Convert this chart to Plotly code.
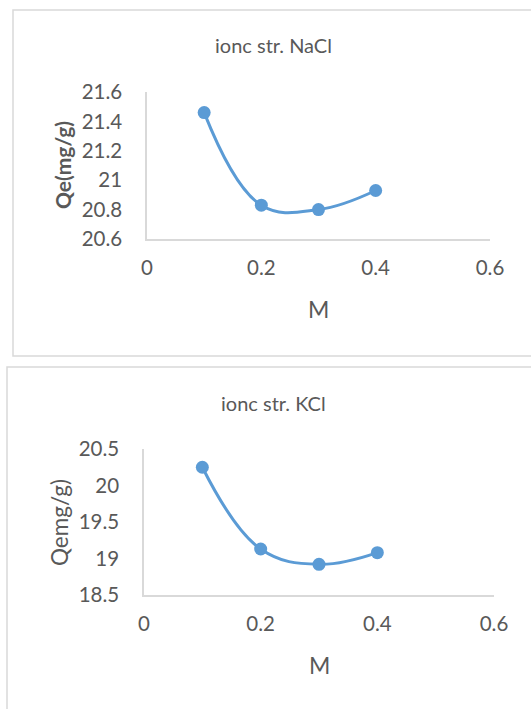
import plotly.graph_objects as go

# Ionic strength experiments: adsorption capacity vs. salt concentration
conc_nacl = [0.1, 0.2, 0.3, 0.4]
qe_nacl = [21.46, 20.83, 20.80, 20.93]

conc_kcl = [0.1, 0.2, 0.3, 0.4]
qe_kcl = [20.25, 19.13, 18.92, 19.08]

x_ticks = [0, 0.2, 0.4, 0.6]
nacl_y_ticks = [20.6, 20.8, 21.0, 21.2, 21.4, 21.6]
kcl_y_ticks = [18.5, 19.0, 19.5, 20.0, 20.5]

W, H = 531, 709
BLUE = "#5B9BD5"
TEXT = "#595959"
AXIS = "#D9D9D9"
FONT = "Lato"


def px_x(v):
    return v / W


def px_y(v):
    return 1 - v / H


fig = go.Figure()

fig.add_trace(go.Scatter(
    x=conc_nacl, y=qe_nacl, mode="lines+markers",
    line=dict(color=BLUE, width=3, shape="spline", smoothing=1.15),
    marker=dict(color=BLUE, size=13),
    xaxis="x", yaxis="y", showlegend=False,
))
fig.add_trace(go.Scatter(
    x=conc_kcl, y=qe_kcl, mode="lines+markers",
    line=dict(color=BLUE, width=3, shape="spline", smoothing=1.15),
    marker=dict(color=BLUE, size=13),
    xaxis="x2", yaxis="y2", showlegend=False,
))

tick_font = dict(family=FONT, size=20.5, color=TEXT)

common_x = dict(
    range=[0, 0.6], tickvals=x_ticks, ticktext=["0", "0.2", "0.4", "0.6"],
    showgrid=False, zeroline=False, showline=True, linecolor=AXIS, linewidth=1.5,
    ticks="", tickfont=tick_font, ticklabelstandoff=10, automargin=False,
)
common_y = dict(
    showgrid=False, zeroline=False, showline=True, linecolor=AXIS, linewidth=1.5,
    ticks="", tickfont=tick_font, ticklabelstandoff=19, automargin=False,
)

fig.update_layout(
    width=W, height=H,
    margin=dict(l=0, r=0, t=0, b=0, autoexpand=False),
    paper_bgcolor="white", plot_bgcolor="white",
    xaxis=dict(domain=[px_x(147), px_x(490)], anchor="y", **common_x),
    yaxis=dict(domain=[px_y(239), px_y(92)], anchor="x", range=[20.6, 21.6],
               tickvals=nacl_y_ticks, ticktext=["20.6", "20.8", "21", "21.2", "21.4", "21.6"],
               **common_y),
    xaxis2=dict(domain=[px_x(144), px_x(494)], anchor="y2", **common_x),
    yaxis2=dict(domain=[px_y(595), px_y(449)], anchor="x2", range=[18.5, 20.5],
                tickvals=kcl_y_ticks, ticktext=["18.5", "19", "19.5", "20", "20.5"],
                **common_y),
)

# Chart frames
fig.add_shape(type="rect", xref="paper", yref="paper",
              x0=px_x(13), x1=px_x(540), y0=px_y(356), y1=px_y(10),
              line=dict(color=AXIS, width=1.5), fillcolor="rgba(0,0,0,0)", layer="below")
fig.add_shape(type="rect", xref="paper", yref="paper",
              x0=px_x(7), x1=px_x(540), y0=px_y(720), y1=px_y(367),
              line=dict(color=AXIS, width=1.5), fillcolor="rgba(0,0,0,0)", layer="below")

labels = [
    ("ionc str. NaCl", 274, 45, 20, 0),
    ("M", 318, 309, 23, 0),
    ("<b>Qe(mg/g)</b>", 63, 165, 21, -90),
    ("ionc str. KCl", 273, 403, 20, 0),
    ("M", 319, 665, 23, 0),
    ("Qemg/g)", 59, 523, 22.5, -90),
]
for text, x, y, size, angle in labels:
    fig.add_annotation(
        text=text, xref="paper", yref="paper", x=px_x(x), y=px_y(y),
        xanchor="center", yanchor="middle", showarrow=False, textangle=angle,
        font=dict(family=FONT, size=size, color=TEXT),
    )

fig.write_html("out.html")
